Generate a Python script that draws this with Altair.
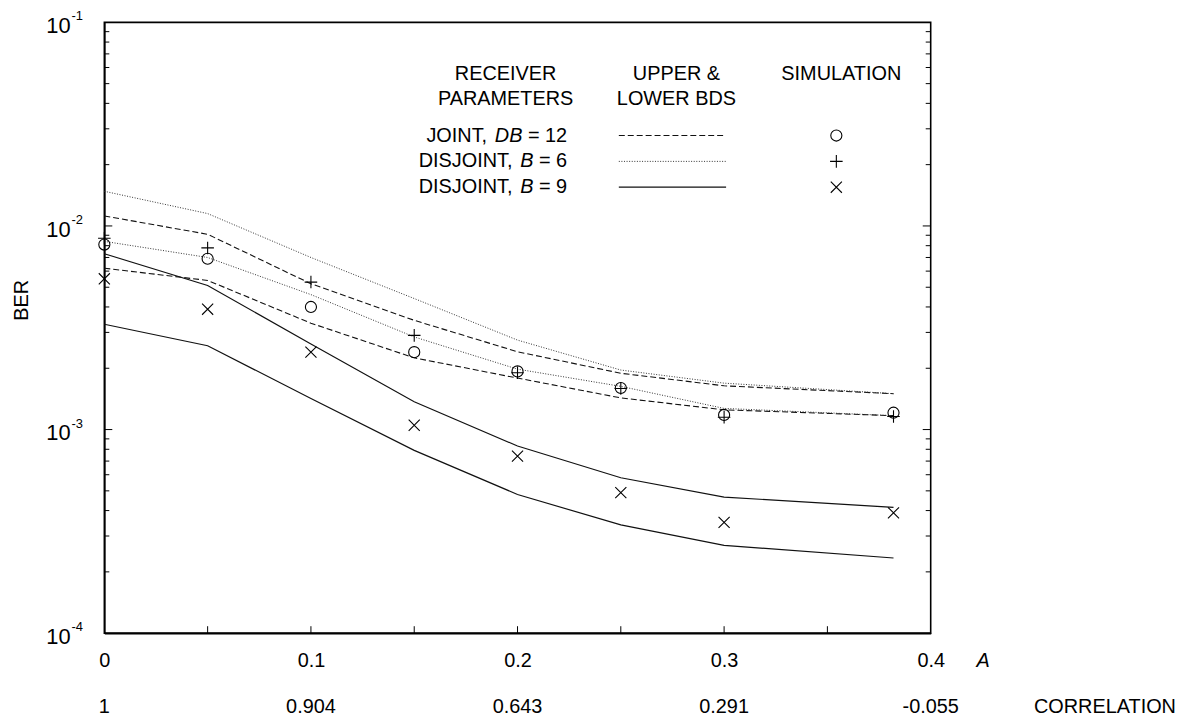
import altair as alt
import pandas as pd

# ---------------- data ----------------
A = [0, 0.05, 0.1, 0.15, 0.2, 0.25, 0.3, 0.382]

joint_upper = [0.0112, 0.0091, 0.0052, 0.00344, 0.00241, 0.00189, 0.00164, 0.00150]
joint_lower = [0.0062, 0.0054, 0.00333, 0.00225, 0.00179, 0.00143, 0.00125, 0.00117]
b6_upper = [0.0148, 0.0115, 0.0070, 0.0044, 0.00275, 0.00196, 0.00169, 0.00150]
b6_lower = [0.0084, 0.0070, 0.0046, 0.00285, 0.00198, 0.00163, 0.00127, 0.00117]
b9_upper = [0.0073, 0.0051, 0.00263, 0.00137, 0.00083, 0.00058, 0.000466, 0.000415]
b9_lower = [0.00329, 0.00258, 0.00142, 0.00079, 0.00048, 0.00034, 0.00027, 0.000234]

sim_joint = [0.0081, 0.0069, 0.0040, 0.0024, 0.00193, 0.00160, 0.00118, 0.00121]
sim_b6 = [0.0087, 0.0078, 0.0053, 0.0029, 0.0019, 0.00159, 0.00115, 0.00116]
sim_b9 = [0.0055, 0.0039, 0.0024, 0.00105, 0.00074, 0.00049, 0.00035, 0.00039]

x_tick_values = [0, 0.1, 0.2, 0.3, 0.4]
x_minor_ticks = [0.05, 0.1, 0.15, 0.2, 0.25, 0.3, 0.35]
corr_A = [0, 0.1, 0.2, 0.3, 0.4]
corr_labels = ["1", "0.904", "0.643", "0.291", "-0.055"]
decades = [1e-4, 1e-3, 1e-2, 1e-1]
decade_exp = ["-4", "-3", "-2", "-1"]

# ---------------- layout ----------------
W, H = 832, 615
FONT = "Liberation Sans"
FS = 20
BLACK = "#000000"

xscale = alt.Scale(domain=[0, 0.4], nice=False, zero=False)
yscale = alt.Scale(type="log", domain=[1e-4, 1e-1], nice=False)
xaxis = alt.Axis(values=x_tick_values, format="~g", tickSize=0, labelPadding=18,
                 labelFontSize=FS, labelFont=FONT, labelColor=BLACK, labelFontWeight="normal",
                 domainColor=BLACK, domainWidth=1.6, grid=False, title=None, labelFlush=False)
yaxis = alt.Axis(labels=False, ticks=False, grid=False, title=None,
                 domainColor=BLACK, domainWidth=1.6)

X = alt.X("A:Q", scale=xscale, axis=xaxis)
Y = alt.Y("BER:Q", scale=yscale, axis=yaxis)

curves = {
    "joint_upper": (joint_upper, "dashed"),
    "joint_lower": (joint_lower, "dashed"),
    "b6_upper": (b6_upper, "dotted"),
    "b6_lower": (b6_lower, "dotted"),
    "b9_upper": (b9_upper, "solid"),
    "b9_lower": (b9_lower, "solid"),
}
rows = []
for name, (vals, style) in curves.items():
    for a, v in zip(A, vals):
        rows.append({"A": a, "BER": v, "curve": name, "style": style})
lines_df = pd.DataFrame(rows)

STYLE = {
    "dashed": dict(strokeDash=[6, 3], strokeWidth=1.1, color="#111111"),
    "dotted": dict(strokeDash=[1, 1.6], strokeWidth=1.0, color="#333333"),
    "solid": dict(strokeWidth=1.2, color="#111111"),
}

layers = []
for style in ["dashed", "dotted", "solid"]:
    layers.append(
        alt.Chart(lines_df[lines_df["style"] == style])
        .mark_line(**STYLE[style])
        .encode(x=X, y=Y, detail="curve:N")
    )

PLUS = "M-1,0L1,0M0,-1L0,1"
CROSS = "M-1,-1L1,1M-1,1L1,-1"
SHAPES = {"joint": ("circle", 125), "b6": (PLUS, 160), "b9": (CROSS, 125)}

for key, vals in [("joint", sim_joint), ("b6", sim_b6), ("b9", sim_b9)]:
    shp, sz = SHAPES[key]
    layers.append(
        alt.Chart(pd.DataFrame({"A": A, "BER": vals}))
        .mark_point(shape=shp, size=sz, filled=False, color=BLACK, strokeWidth=1.1, opacity=1)
        .encode(x=X, y=Y)
    )

# inward ticks
layers.append(
    alt.Chart(pd.DataFrame({"A": x_minor_ticks}))
    .mark_rule(color=BLACK, strokeWidth=1)
    .encode(x=X, y=alt.value(H), y2=alt.value(H - 7))
)
major_y = [1e-3, 1e-2]
minor_y = [m * d for d in [1e-4, 1e-3, 1e-2] for m in range(2, 10)]
for vals, ln in [(major_y, 8), (minor_y, 5)]:
    df = pd.DataFrame({"BER": vals})
    layers.append(alt.Chart(df).mark_rule(color=BLACK, strokeWidth=1)
                  .encode(y=Y, x=alt.value(0), x2=alt.value(ln)))
    layers.append(alt.Chart(df).mark_rule(color=BLACK, strokeWidth=1)
                  .encode(y=Y, x=alt.value(W), x2=alt.value(W - ln)))

# y axis labels 10^n
dec_df = pd.DataFrame({"BER": decades, "e": decade_exp, "b": ["10"] * 4})
layers.append(alt.Chart(dec_df).mark_text(align="right", baseline="middle", font=FONT,
                                          fontSize=22, dy=4, color=BLACK)
              .encode(y=Y, x=alt.value(-34), text="b:N"))
layers.append(alt.Chart(dec_df).mark_text(align="left", baseline="middle", font=FONT,
                                          fontSize=13, dy=-6, color=BLACK)
              .encode(y=Y, x=alt.value(-33), text="e:N"))

# correlation row
layers.append(alt.Chart(pd.DataFrame({"A": corr_A, "t": corr_labels}))
              .mark_text(align="center", baseline="middle", font=FONT, fontSize=FS, color=BLACK)
              .encode(x=alt.X("A:Q", scale=xscale, axis=xaxis), y=alt.value(689), text="t:N"))


def txt(t, x, y, align="left", size=FS, italic=False, angle=0):
    kw = dict(align=align, baseline="middle", font=FONT, fontSize=size, color=BLACK)
    if italic:
        kw["fontStyle"] = "italic"
    if angle:
        kw["angle"] = angle
    return (alt.Chart(pd.DataFrame({"t": [t]})).mark_text(**kw)
            .encode(x=alt.value(x), y=alt.value(y), text="t:N"))


# Arial / Liberation Sans advance widths (per 1000 em)
AW = {" ": 278, ",": 278, "=": 584, "1": 556, "2": 556, "6": 556, "9": 556, "J": 500,
      "O": 778, "I": 278, "N": 722, "T": 611, "D": 722, "S": 667, "B": 667}


def width(s, size=FS):
    return sum(AW.get(c, 600) for c in s) * size / 1000.0


layers += [
    txt("A", 878, 643, italic=True),
    txt("CORRELATION", 936, 689),
    txt("BER", -83, 280, align="center", angle=270),
    txt("RECEIVER", 404, 52, align="center"),
    txt("PARAMETERS", 404, 77, align="center"),
    txt("UPPER &", 576, 52, align="center"),
    txt("LOWER BDS", 576, 77, align="center"),
    txt("SIMULATION", 742, 52, align="center"),
]

row_right = 466
row_parts = [
    (114, ["JOINT, ", "DB", " = 12"]),
    (140, ["DISJOINT, ", "B", " = 6"]),
    (166, ["DISJOINT, ", "B", " = 9"]),
]
for yy, parts in row_parts:
    total = sum(width(p) for p in parts)
    x0 = row_right - total
    for i, p in enumerate(parts):
        layers.append(txt(p.strip(), x0 + (width(" ") if p.startswith(" ") else 0), yy,
                          italic=(i == 1)))
        x0 += width(p)

one = pd.DataFrame({"k": [0]})
for yy, style in [(114, "dashed"), (140, "dotted"), (166, "solid")]:
    layers.append(alt.Chart(one).mark_rule(**STYLE[style])
                  .encode(x=alt.value(518), x2=alt.value(626), y=alt.value(yy)))
for yy, key in [(114, "joint"), (140, "b6"), (166, "b9")]:
    shp, sz = SHAPES[key]
    layers.append(alt.Chart(one).mark_point(shape=shp, size=sz, filled=False, color=BLACK,
                                            strokeWidth=1.1, opacity=1)
                  .encode(x=alt.value(737), y=alt.value(yy)))

chart = (
    alt.layer(*layers)
    .properties(width=W, height=H,
                padding={"left": 97, "top": 12, "right": 249, "bottom": 85},
                autosize=alt.AutoSizeParams(type="none"),
                background="white")
    .configure_view(stroke=BLACK, strokeWidth=1.6)
)

chart.save("out.html", embed_options={"renderer": "svg", "actions": False})
